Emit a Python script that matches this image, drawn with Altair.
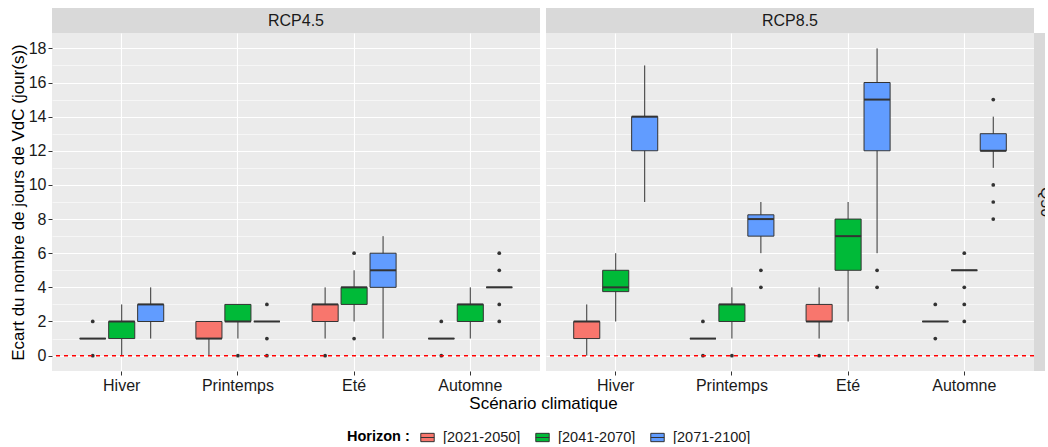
import altair as alt
import pandas as pd

seasons = ["Hiver", "Printemps", "Eté", "Automne"]
horizons = ["[2021-2050]", "[2041-2070]", "[2071-2100]"]
colors = ["#F8766D", "#00BA38", "#619CFF"]
rcps = ["RCP4.5", "RCP8.5"]

# box statistics, season-major, horizon-minor order
rcp45_lower = [1, 0, 1, 0, 1, 2, 1, 2, 1, 1, 1, 4]
rcp45_q1 = [1, 1, 2, 1, 2, 2, 2, 3, 4, 1, 2, 4]
rcp45_median = [1, 2, 3, 1, 2, 2, 3, 4, 5, 1, 3, 4]
rcp45_q3 = [1, 2, 3, 2, 3, 2, 3, 4, 6, 1, 3, 4]
rcp45_upper = [1, 3, 4, 2, 3, 2, 4, 5, 7, 1, 4, 4]
rcp45_outliers = [[0, 2], [], [], [], [0], [0, 1, 3], [0], [1, 6], [], [0, 2], [], [2, 3, 5, 6]]

rcp85_lower = [0, 2, 9, 1, 1, 6, 1, 2, 6, 2, 5, 11]
rcp85_q1 = [1, 3.75, 12, 1, 2, 7, 2, 5, 12, 2, 5, 12]
rcp85_median = [2, 4, 14, 1, 3, 8, 2, 7, 15, 2, 5, 12]
rcp85_q3 = [2, 5, 14, 1, 3, 8.25, 3, 8, 16, 2, 5, 13]
rcp85_upper = [3, 6, 17, 1, 4, 9, 4, 9, 18, 2, 5, 14]
rcp85_outliers = [[], [], [], [0, 2], [0], [4, 5], [0], [], [4, 5], [1, 3], [2, 3, 4, 6], [8, 9, 10, 15]]

stats_rows = []
out_rows = []
for rcp, lo, q1, md, q3, up, outs in [
    ("RCP4.5", rcp45_lower, rcp45_q1, rcp45_median, rcp45_q3, rcp45_upper, rcp45_outliers),
    ("RCP8.5", rcp85_lower, rcp85_q1, rcp85_median, rcp85_q3, rcp85_upper, rcp85_outliers),
]:
    i = 0
    for s in seasons:
        for h in horizons:
            stats_rows.append(dict(rcp=rcp, season=s, horizon=h, lower=lo[i], q1=q1[i],
                                   median=md[i], q3=q3[i], upper=up[i]))
            for v in outs[i]:
                out_rows.append(dict(rcp=rcp, season=s, horizon=h, value=v))
            i += 1
stats = pd.DataFrame(stats_rows)
outliers = pd.DataFrame(out_rows)
zero_df = pd.DataFrame({"y": [0]})

W, H = 488, 338
FONT = "Liberation Sans"

x_scale = alt.Scale(domain=seasons, paddingInner=0, paddingOuter=0.1)
xo_scale = alt.Scale(domain=horizons, paddingInner=0.1, paddingOuter=0.555)
y_scale = alt.Scale(domain=[-0.9, 18.9], nice=False, zero=False)
color_scale = alt.Scale(domain=horizons, range=colors)

legend = alt.Legend(
    title="Horizon :", orient="none", legendX=295, legendY=397, direction="horizontal",
    titleOrient="left", titleFontWeight="bold", titleFontSize=14.5, titleColor="#000000",
    titleFont=FONT, labelFont=FONT, labelFontSize=14.5, labelColor="#1a1a1a",
    symbolType="M-1,-0.62H1V0.62H-1Z M-1,0H1", symbolSize=180, symbolStrokeColor="#333333",
    symbolStrokeWidth=1, symbolOpacity=1, labelOffset=8, columnPadding=12, titlePadding=10,
)

grid_w = {"condition": {"test": "datum.value % 2 == 0", "value": 1.1}, "value": 0.55}


def panel(rcp, first):
    if first:
        yaxis = alt.Axis(
            title="Ecart du nombre de jours de VdC (jour(s))", values=list(range(0, 19)),
            labelExpr="datum.value % 2 == 0 ? datum.label : ''", labelOverlap=False,
            gridWidth=grid_w,
            tickOpacity={"condition": {"test": "datum.value % 2 == 0", "value": 1}, "value": 0},
            titleFontSize=17, titleFontWeight="normal", titleColor="#000000", titlePadding=1,
            labelFontSize=16, labelColor="#1a1a1a", tickSize=4, labelPadding=2,
        )
        xaxis = alt.Axis(title="Scénario climatique", titleX=W + 3, titleY=24,
                         titleFontSize=17, titleFontWeight="normal", titleColor="#000000",
                         titleAlign="center", titleBaseline="top")
    else:
        yaxis = alt.Axis(
            title=None, values=list(range(0, 19)), labels=False, ticks=False,
            gridWidth=grid_w,
        )
        xaxis = alt.Axis(title=None)

    base = alt.Chart(stats).transform_filter(alt.datum.rcp == rcp)
    x = alt.X("season:N", scale=x_scale, sort=seasons, axis=xaxis)
    xo = alt.XOffset("horizon:N", scale=xo_scale, sort=horizons)
    Y = lambda f: alt.Y(f, scale=y_scale, axis=yaxis)

    whisk = base.mark_rule(color="#333333", strokeWidth=1).encode(
        x=x, xOffset=xo, y=Y("lower:Q"), y2="upper:Q",
    )
    box = base.mark_bar(stroke="#333333", strokeWidth=1, opacity=1).encode(
        x=x, xOffset=xo, y=Y("q1:Q"), y2="q3:Q",
        fill=alt.Fill("horizon:N", scale=color_scale, legend=legend, sort=horizons),
    )
    med = base.mark_tick(orient="horizontal", size=26, thickness=2, color="#333333", opacity=1).encode(
        x=x, xOffset=xo, y=Y("median:Q"),
    )
    pts = alt.Chart(outliers).transform_filter(alt.datum.rcp == rcp).mark_circle(
        size=14, color="#333333", opacity=1
    ).encode(x=x, xOffset=xo, y=Y("value:Q"))
    zero = alt.Chart(zero_df).mark_rule(stroke="#FF0000", strokeDash=[4, 4], strokeWidth=1.5,
                                         opacity=1).encode(y=Y("y:Q"))
    strip = alt.Chart(zero_df).mark_rect(color="#D9D9D9").encode(
        x=alt.value(0), x2=alt.value(W), y=alt.value(-25), y2=alt.value(0)
    )
    strip_txt = alt.Chart(zero_df).mark_text(
        text=rcp, fontSize=16, color="#1a1a1a", font=FONT, align="center", baseline="middle"
    ).encode(x=alt.value(W / 2), y=alt.value(-12.5))
    layers = [whisk, box, med, pts, zero, strip, strip_txt]
    if not first:
        rstrip = alt.Chart(zero_df).mark_rect(color="#D9D9D9").encode(
            x=alt.value(W), x2=alt.value(W + 23), y=alt.value(0), y2=alt.value(H)
        )
        rtxt = alt.Chart(zero_df).mark_text(
            text="Q50", fontSize=16, color="#1a1a1a", font=FONT, angle=90,
            align="center", baseline="middle"
        ).encode(x=alt.value(W + 11.5), y=alt.value(H / 2))
        layers += [rstrip, rtxt]
    return alt.layer(*layers).properties(width=W, height=H)


chart = alt.hconcat(panel("RCP4.5", True), panel("RCP8.5", False), spacing=6, bounds="flush").properties(
    padding={"left": 9, "top": 8, "right": -12, "bottom": 0}
).configure(font=FONT, background="#FFFFFF").configure_view(
    fill="#EBEBEB", stroke=None
).configure_axis(
    domain=False, grid=True, gridColor="#FFFFFF", tickColor="#333333", labelFont=FONT,
    titleFont=FONT, labelColor="#1a1a1a",
).configure_axisY(labelOverlap=False).configure_axisX(
    bandPosition=0.5, labelFontSize=16, tickSize=4, labelPadding=2, gridWidth=1.1,
    labelAngle=0,
)

chart.save("out.html", embed_options={"renderer": "svg", "actions": False})
